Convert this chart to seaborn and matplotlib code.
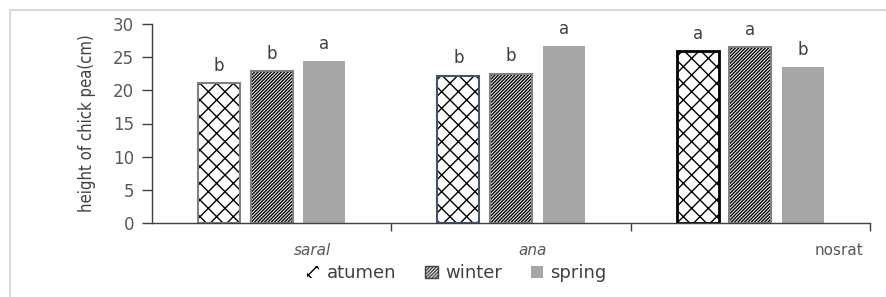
import matplotlib
matplotlib.use("Agg")
import matplotlib.pyplot as plt
import seaborn as sns
import pandas as pd
from matplotlib.patches import Rectangle, Patch
import matplotlib.transforms as mtransforms

categories = ["saral", "ana", "nosrat"]
seasons = ["atumen", "winter", "spring"]
atumen = [21.1, 22.2, 25.9]
winter = [22.9, 22.5, 26.5]
spring = [24.4, 26.7, 23.5]
letters_atumen = ["b", "b", "a"]
letters_winter = ["b", "b", "a"]
letters_spring = ["a", "a", "b"]
yticks = [0, 5, 10, 15, 20, 25, 30]

rows = []
for season, vals in zip(seasons, [atumen, winter, spring]):
    for c, v in zip(categories, vals):
        rows.append({"cat": c, "season": season, "value": v})
df = pd.DataFrame(rows)

sns.set_style("white")
plt.rcParams["font.family"] = ["DejaVu Sans"]
plt.rcParams["hatch.linewidth"] = 1.0

fig = plt.figure(figsize=(8.87, 2.97), dpi=100)
ax = fig.add_axes([152/887, 74/297, 718/887, 199/297])

sns.barplot(data=df, x="cat", y="value", hue="season", order=categories,
            hue_order=seasons, palette=["white", "white", "#a6a6a6"],
            width=0.66, gap=0.2, ax=ax, legend=False, errorbar=None,
            saturation=1)

hatches = ["xx", "//////////", None]
edgecols = [["#808080", "#44546a", "#000000"],
            ["#808080", "#808080", "#808080"],
            [None, None, None]]
edgewidths = [[1.5, 1.5, 2.0], [1.5, 1.5, 1.5], [0, 0, 0]]
for si, cont in enumerate(ax.containers):
    for ci, bar in enumerate(cont):
        if hatches[si]:
            bar.set_hatch(hatches[si])
            bar.set_edgecolor(edgecols[si][ci])
            bar.set_linewidth(edgewidths[si][ci])
            bar._hatch_color = matplotlib.colors.to_rgba("black")
        else:
            bar.set_edgecolor("none")
            bar.set_linewidth(0)

for cont, labs in zip(ax.containers, [letters_atumen, letters_winter, letters_spring]):
    for bar, lab in zip(cont, labs):
        ax.annotate(lab, (bar.get_x() + bar.get_width()/2, bar.get_height()),
                    xytext=(0, 6), textcoords="offset points", ha="center",
                    va="bottom", fontsize=12, color="#404040")

ax.set_xlim(-0.5, 2.5)
ax.set_ylim(0, 30)
ax.set_yticks(yticks)
ax.set_yticklabels([str(t) for t in yticks], fontsize=12, color="#595959")
ax.tick_params(axis="y", direction="out", length=7, width=1, color="#404040", pad=6, left=True)
ax.set_xticks([0.5, 1.5, 2.5])
ax.set_xticklabels([])
ax.tick_params(axis="x", direction="out", length=6, width=1, color="#404040", bottom=True)
ax.set_xlabel("")
ax.set_ylabel("height of chick pea(cm)", fontsize=12, color="#404040",
              fontstretch="condensed", labelpad=12)
for s in ["top", "right"]:
    ax.spines[s].set_visible(False)
for s in ["left", "bottom"]:
    ax.spines[s].set_color("#404040")
    ax.spines[s].set_linewidth(1)

trans = mtransforms.blended_transform_factory(ax.transData, ax.transAxes)
label_offsets = [0.17, 0.09, 0.37]
label_styles = ["italic", "italic", "normal"]
for i, (c, off, st) in enumerate(zip(categories, label_offsets, label_styles)):
    ax.text(i + off, -0.14, c, transform=trans, ha="center", va="center",
            fontsize=11, color="#595959", style=st)

handles = [Patch(facecolor="white", edgecolor="black", linewidth=0, hatch="xx"),
           Patch(facecolor="white", edgecolor="#404040", hatch="//////////"),
           Patch(facecolor="#a6a6a6", edgecolor="none")]
fig.legend(handles, seasons, loc="center", bbox_to_anchor=(0.515, 0.08), ncol=3,
           frameon=False, fontsize=13, handlelength=0.7, handleheight=0.7,
           handletextpad=0.4, columnspacing=1.6, labelcolor="#404040")

fig.patches.append(Rectangle((10/887, -0.05), 1.2, (297-10)/297 + 0.05,
                             transform=fig.transFigure, fill=False,
                             edgecolor="#d9d9d9", linewidth=1.5, zorder=-1))

fig.savefig("out.png", dpi=100)
